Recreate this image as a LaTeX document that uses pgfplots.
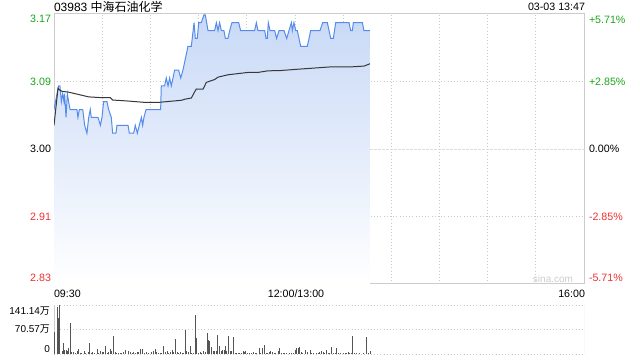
\documentclass[border=0pt]{standalone}
\usepackage{pgfplots}
\usepackage{pgfplotstable}
\pgfplotsset{compat=1.18}
\usepackage{fontspec}
\setmainfont{Liberation Sans}
\newfontfamily\cjk{Noto Sans CJK SC}
\definecolor{upg}{RGB}{26,166,26}
\definecolor{dnr}{RGB}{238,48,48}
\definecolor{pline}{RGB}{85,140,235}
\definecolor{ftop}{RGB}{200,217,246}
\definecolor{frame}{RGB}{204,204,204}
\definecolor{gridc}{RGB}{200,200,200}
\definecolor{avgc}{RGB}{55,55,60}
\definecolor{volc}{RGB}{85,85,85}

\pgfplotstableread{
t p
0 3.05
1.9 3.07
2.9 3.08
3.7 3.08
4.6 3.06
5.4 3.07
6.2 3.06
6.6 3.07
7.5 3.04
8.3 3.07
9.1 3.06
10.0 3.05
14.3 3.05
14.9 3.04
15.8 3.05
17.9 3.05
19.1 3.03
20.5 3.02
21.6 3.04
22.6 3.05
23.2 3.04
24.1 3.04
27.4 3.04
28.9 3.03
29.9 3.04
30.9 3.06
33.0 3.06
34.0 3.05
35.7 3.04
36.5 3.02
38.6 3.02
39.2 3.03
46.1 3.03
46.9 3.02
49.6 3.02
50.6 3.03
51.9 3.02
53.1 3.03
54.4 3.04
55.2 3.03
56.0 3.04
57.3 3.05
65.6 3.05
66.4 3.05
66.8 3.08
68.9 3.08
69.9 3.09
71.0 3.08
72.0 3.09
73.05 3.08
74.1 3.09
75.1 3.10
77.6 3.10
78.9 3.09
80.3 3.10
81.35 3.11
83.4 3.13
85.5 3.13
87.2 3.16
88.0 3.14
89.2 3.14
90.1 3.16
91.7 3.16
93.4 3.17
94.2 3.17
95.9 3.15
100.0 3.15
101.1 3.16
102.1 3.15
103.1 3.16
104.2 3.15
105.8 3.15
106.7 3.14
108.3 3.14
109.4 3.15
110.8 3.16
115.0 3.16
116.2 3.15
124.9 3.15
126.0 3.16
127.0 3.15
131.2 3.15
132.0 3.14
132.8 3.14
133.45 3.16
134.5 3.15
137.4 3.15
138.6 3.14
140.1 3.15
143.2 3.15
144.9 3.14
146.3 3.15
147.8 3.16
148.4 3.15
149.4 3.16
150.5 3.15
151.5 3.15
153.6 3.13
157.7 3.13
158.8 3.14
159.8 3.15
161.9 3.15
165.6 3.15
167.3 3.16
170.2 3.16
172.3 3.14
173.9 3.14
175.4 3.16
183.7 3.16
184.7 3.15
185.75 3.15
186.4 3.16
192.0 3.16
193.0 3.15
196.75 3.15
}\price

\pgfplotstableread{
t a
0 3.03
2.5 3.077
3.3 3.075
5.0 3.073
9.1 3.072
15.4 3.069
21.6 3.066
29.9 3.065
35.1 3.065
36.5 3.062
44.4 3.061
56.9 3.059
64.75 3.059
79.3 3.0617
81.35 3.063
85.5 3.0646
87.2 3.071
88.6 3.076
92.8 3.0757
94.85 3.0844
100.0 3.088
102.1 3.091
108.3 3.094
112.5 3.095
120.8 3.097
127.0 3.097
133.2 3.099
141.1 3.0994
151.5 3.101
161.9 3.1025
172.3 3.104
184.7 3.104
193.0 3.105
196.75 3.108
}\avgp

\pgfplotstableread{
t v
0.4 62
1.9 136
2.9 103
3.7 141
5.0 8
5.8 31
6.6 12
7.5 12
8.3 10
9.1 17
10.2 89
11.2 5
12.0 5
13.3 3
14.5 8
15.4 14
16.4 3
17.4 3
18.7 10
19.9 3
21.2 5
22.0 31
23.2 3
24.1 5
25.3 3
26.8 14
27.8 3
28.8 8
29.9 5
30.9 5
32.0 24
33.0 3
34.0 5
35.1 14
36.1 8
37.0 53
38.2 5
39.2 3
40.3 2
41.3 3
42.3 3
43.4 5
44.8 12
46.1 10
47.5 5
48.6 3
49.6 5
50.6 3
51.7 5
52.7 5
53.8 14
55.2 14
56.5 3
57.9 5
59.0 3
60.6 5
62.1 8
63.1 14
64.1 5
65.2 3
66.2 3
67.2 3
68.3 24
69.3 5
70.4 8
71.4 3
72.4 5
73.5 12
74.5 5
75.6 43
76.6 5
77.6 3
78.7 5
79.7 3
80.7 3
81.8 70
82.8 8
83.8 5
84.9 24
85.9 3
87.0 3
88.0 112
88.6 46
90.1 3
91.1 5
92.1 3
93.2 8
94.2 5
95.3 60
96.3 41
96.9 36
98.0 20
99.2 8
100.2 8
101.3 8
101.9 55
102.9 22
104.0 8
105.0 12
106.05 12
106.7 24
107.5 8
108.5 52
109.6 8
110.6 8
111.7 50
112.7 3
113.7 3
114.8 3
115.8 3
116.8 3
117.9 8
118.9 5
119.5 10
120.4 3
121.6 3
123.1 3
124.1 5
125.2 3
126.2 3
127.85 16
128.7 3
129.9 16
131.0 27
132.0 3
132.8 3
134.1 5
134.9 10
135.9 5
137.0 3
138.2 3
139.7 10
140.7 16
141.8 3
142.8 3
143.8 3
144.9 3
146.9 3
148.0 3
149.0 3
150.1 12
151.1 17
152.1 17
152.8 19
153.8 5
154.8 3
156.3 12
157.7 5
159.4 12
160.4 3
161.5 3
163.5 3
164.6 3
165.6 5
166.7 8
167.7 5
168.7 3
169.8 12
170.8 3
171.8 3
172.9 20
173.9 3
175.0 3
176.0 17
177.0 3
178.1 3
180.1 3
181.2 3
182.2 3
183.3 5
184.3 3
185.3 3
186.0 52
187.0 3
188.5 3
190.5 3
192.6 3
194.7 50
195.7 3
196.8 8
}\vol

\begin{document}
\begin{tikzpicture}[x=0.75pt,y=0.75pt,every node/.style={inner sep=0pt,outer sep=0pt}]
\useasboundingbox (0,0) rectangle (640,360);
% main price axis
\begin{axis}[
  at={(40.5pt,57pt)}, anchor=south west,
  scale only axis, width=397.5pt, height=202.5pt,
  xmin=0, xmax=330, ymin=2.829, ymax=3.171,
  xtick={30,60,...,300}, ytick={2.9145,3.0855},
  xticklabels={}, yticklabels={},
  major tick length=0pt,
  xmajorgrids, ymajorgrids,
  grid style={gridc, dotted, line width=0.6pt},
  extra y ticks={3.0}, extra y tick labels={},
  extra y tick style={grid style={gridc!110!black, dash pattern=on 2pt off 1pt, line width=0.6pt}},
  axis line style={frame, line width=0.75pt},
]
\addplot[draw=none, top color=ftop, bottom color=white, forget plot]
  table[x=t,y=p] {\price} -- (axis cs:196.75,2.829) -- (axis cs:0,2.829) -- cycle;
\addplot[pline, line width=0.75pt, no marks] table[x=t,y=p] {\price};
\addplot[avgc, line width=0.75pt, no marks] table[x=t,y=a] {\avgp};
\end{axis}
% volume axis
\begin{axis}[
  at={(40.5pt,4.5pt)}, anchor=south west,
  scale only axis, width=397.5pt, height=36.75pt,
  xmin=0, xmax=330, ymin=0, ymax=141.14,
  xtick=\empty, ytick={0,70.57,141.14}, yticklabels={},
  major tick length=0pt,
  ymajorgrids,
  grid style={gridc, dotted, line width=0.6pt},
  axis line style={draw=none},
]
\draw[frame, line width=0.75pt] (rel axis cs:0,0) -- (rel axis cs:0,1);
\draw[frame, line width=0.75pt] (rel axis cs:1,0) -- (rel axis cs:1,1);
\addplot[ycomb, volc, line width=0.75pt, no marks] table[x=t,y=v] {\vol};
\end{axis}
% labels
\node[anchor=west, font=\fontsize{9}{10}\selectfont] at (54,353) {03983 {\cjk 中海石油化学}};
\node[anchor=east, font=\fontsize{8}{9}\selectfont] at (585,353) {03-03 13:47};
\begin{scope}[every node/.append style={font=\fontsize{8}{9}\selectfont}]
\node[anchor=east, text=upg] at (51,341) {3.17};
\node[anchor=east, text=upg] at (51,278) {3.09};
\node[anchor=east, text=black] at (51,211) {3.00};
\node[anchor=east, text=dnr] at (51,143) {2.91};
\node[anchor=east, text=dnr] at (51,82) {2.83};
\node[anchor=west, text=upg] at (589,340) {+5.71\%};
\node[anchor=west, text=upg] at (589,278) {+2.85\%};
\node[anchor=west, text=black] at (589,211) {0.00\%};
\node[anchor=west, text=dnr] at (589,143) {-2.85\%};
\node[anchor=west, text=dnr] at (589,82) {-5.71\%};
\node[anchor=west] at (54,66) {09:30};
\node[anchor=center] at (296,66) {12:00/13:00};
\node[anchor=east] at (585,66) {16:00};
\end{scope}
\node[anchor=east, text=frame, font=\fontsize{7.5}{9}\selectfont] at (573,81) {sina.com};
\begin{scope}[every node/.append style={font=\fontsize{7.5}{9}\selectfont}]
\node[anchor=east] at (50,49) {141.14{\cjk 万}};
\node[anchor=east] at (50,31) {70.57{\cjk 万}};
\node[anchor=east] at (50,11) {0};
\end{scope}
\end{tikzpicture}
\end{document}
